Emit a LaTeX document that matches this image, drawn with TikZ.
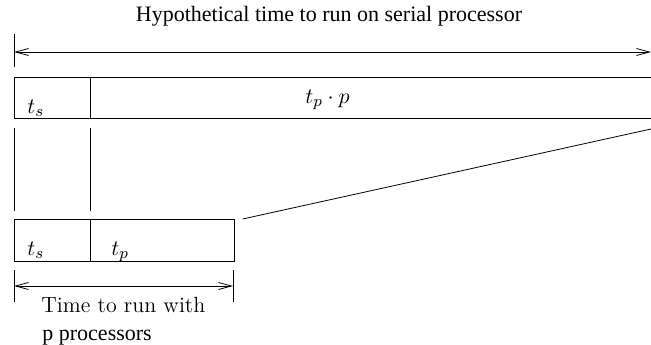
\documentclass[tikz,border=0pt]{standalone}
\usepackage{fontspec}
\newfontfamily\timesfont{Liberation Serif}
\usetikzlibrary{arrows.meta,calc}

\begin{document}
\begin{tikzpicture}[
        x=0.5pt, y=-0.5pt,
        every node/.style={
            font=\fontsize{11}{13}\selectfont
        },
        box/.style={
            inner sep=0pt,
            anchor=north west
        },
        lbl/.style={
            anchor=base west,
            inner sep=0pt
        },
        dim/.style={
            {Straight Barb[length=6.5pt,width=3.5pt]}-{Straight Barb[length=6.5pt,width=3.5pt]}
        }
    ]
    \useasboundingbox (0,0) rectangle (651,344);
    % titel oben
    \node[anchor=base, inner sep=0pt] (title) at (329,21)
        {\timesfont Hypothetical time to run on serial processor};
    % seriell
    \coordinate (serL) at (14,52);
    \coordinate (serR) at (651,52);
    \draw (14,34) -- (14,67);
    \draw[dim] (serL) -- (serR);
    \node[box, minimum width=38pt, minimum height=20.5pt] (tsTop) at (14,77) {};
    \node[box, minimum width=285pt, minimum height=20.5pt] (tpTop) at (tsTop.north east) {};
    \draw (tsTop.north west) rectangle (tpTop.south east);
    \draw (tsTop.north east) -- (tsTop.south east);
    \node[lbl] (tsTopLbl) at (27,113) {$t_s$};
    \node[lbl] (tpTopLbl) at (305,103) {$t_p\cdot p$};
    % senkrechte linien
    \draw ($(tsTop.south west)+(0,9)$) -- ($(tsTop.south west)+(0,92)$);
    \draw ($(tsTop.south east)+(0,9)$) -- ($(tsTop.south east)+(0,92)$);
    % parallel
    \node[box, minimum width=38pt, minimum height=21pt] (tsBot) at (14,219) {};
    \node[box, minimum width=71.5pt, minimum height=21pt] (tpBot) at (tsBot.north east) {};
    \draw (tsBot.north west) rectangle (tpBot.south east);
    \draw (tsBot.north east) -- (tsBot.south east);
    \node[lbl] (tsBotLbl) at (27,255) {$t_s$};
    \node[lbl] (tpBotLbl) at (111,255) {$t_p$};
    \coordinate (diagEnd) at (651,129);
    \draw ($(tpBot.north east)+(8,0)$) -- (diagEnd);
    % zeit mit p prozessoren
    \coordinate (parL) at (14,286);
    \coordinate (parR) at (233,286);
    \draw (14,270) -- (14,302);
    \draw (233,270) -- (233,302);
    \draw[dim] (parL) -- (parR);
    \node[lbl] (parText) at (41,312) {Time to run with};
    \node[lbl] (parText2) at (42,340) {\timesfont p processors};
\end{tikzpicture}
\end{document}
